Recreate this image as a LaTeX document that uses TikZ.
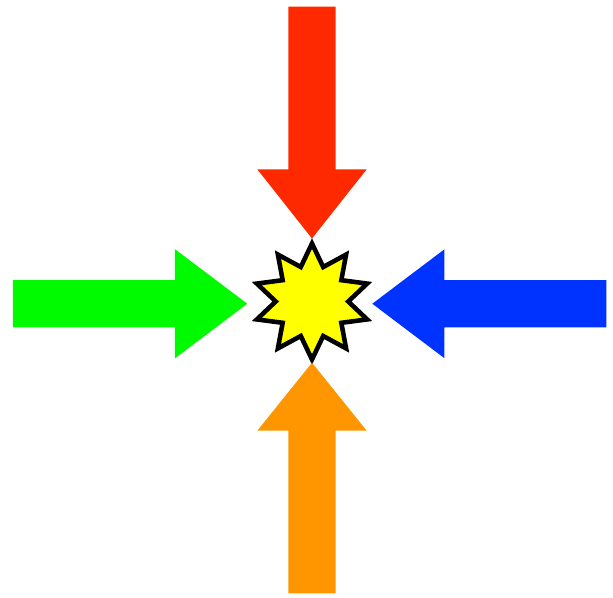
\documentclass[tikz,border=0pt]{standalone}
\usetikzlibrary{shapes.geometric}

\definecolor{arrowred}{RGB}{255,41,0}
\definecolor{arrowgreen}{RGB}{0,250,0}
\definecolor{arrowblue}{RGB}{0,51,255}
\definecolor{arroworange}{RGB}{255,150,0}
\definecolor{burstyellow}{RGB}{255,255,0}

\begin{document}
\begin{tikzpicture}[
burst/.style={
star,
star points=10,
star point ratio=1.6,
draw=black,
line width=2.6pt,
fill=burstyellow,
minimum size=2.32cm,
inner sep=0pt
}
]

\useasboundingbox (-6.24,-5.91) rectangle (6.02,6.03);

\node[burst] (boom) at (0,0) {};

% Tips of the four block arrows
\coordinate (tipN) at (0,1.26);
\coordinate (tipS) at (0,-1.224);
\coordinate (tipW) at (-1.294,-0.045);
\coordinate (tipE) at (1.206,-0.045);

% Block arrows (filled polygons, tip first)
\fill[arrowred] (tipN) -- ++(1.094,1.384) -- ++(-0.621,0) -- ++(0,3.252)
 -- ++(-0.946,0) -- ++(0,-3.252) -- ++(-0.621,0) -- cycle;
\fill[arroworange] (tipS) -- ++(1.094,-1.36) -- ++(-0.621,0) -- ++(0,-3.252)
 -- ++(-0.946,0) -- ++(0,3.252) -- ++(-0.621,0) -- cycle;
\fill[arrowgreen] (tipW) -- ++(-1.446,1.09) -- ++(0,-0.617) -- ++(-3.24,0)
 -- ++(0,-0.946) -- ++(3.24,0) -- ++(0,-0.617) -- cycle;
\fill[arrowblue] (tipE) -- ++(1.444,1.09) -- ++(0,-0.617) -- ++(3.24,0)
 -- ++(0,-0.946) -- ++(-3.24,0) -- ++(0,-0.617) -- cycle;

\end{tikzpicture}
\end{document}
